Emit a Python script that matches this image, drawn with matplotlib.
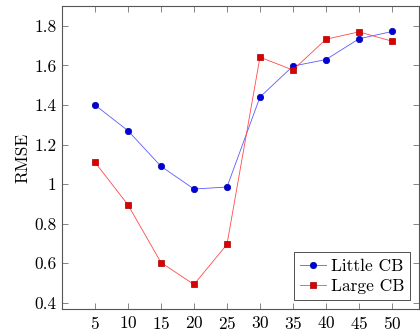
import matplotlib
matplotlib.use('Agg')
import matplotlib.pyplot as plt

plt.rcParams['font.family'] = 'serif'
plt.rcParams['font.serif'] = ['cmr10']
plt.rcParams['axes.formatter.use_mathtext'] = True
plt.rcParams['font.size'] = 12.5

# codebook sizes
sizes = [5, 10, 15, 20, 25, 30, 35, 40, 45, 50]
little_cb = [1.40, 1.27, 1.09, 0.975, 0.985, 1.44, 1.597, 1.63, 1.735, 1.772]
large_cb = [1.11, 0.895, 0.603, 0.492, 0.695, 1.642, 1.577, 1.733, 1.77, 1.723]

yticks = [0.4, 0.6, 0.8, 1.0, 1.2, 1.4, 1.6, 1.8]
ylabels = ['0.4', '0.6', '0.8', '1', '1.2', '1.4', '1.6', '1.8']

fig = plt.figure(figsize=(4.2, 3.31), dpi=100)
ax = fig.add_axes([62/420, 1 - 309/331, 357/420, 303/331])

ax.plot(sizes, little_cb, color='#5a5aff', lw=0.6, marker='o', ms=4.6,
        mfc='#0000dd', mec='#0000a0', mew=0.5, label='Little CB')
ax.plot(sizes, large_cb, color='#ff4a4a', lw=0.6, marker='s', ms=4.4,
        mfc='#dd0000', mec='#a00000', mew=0.5, label='Large CB')

ax.set_xlim(0, 54.1)
ax.set_ylim(0.368, 1.901)
ax.set_xticks(sizes)
ax.set_yticks(yticks)
ax.set_yticklabels(ylabels)
ax.set_ylabel('RMSE', labelpad=3)
ax.tick_params(direction='in', top=True, right=True, length=4, width=0.5,
               color='#555555', pad=4)
for s in ax.spines.values():
    s.set_color('#555555')
    s.set_linewidth(0.8)

leg = ax.legend(loc='lower right', fancybox=False, edgecolor='#333333',
                framealpha=1, handlelength=1.5, borderpad=0.35, labelspacing=0.3,
                handletextpad=0.25, borderaxespad=0.5, fontsize=12.5)
leg.get_frame().set_linewidth(0.6)

fig.savefig('out.png', dpi=100)
